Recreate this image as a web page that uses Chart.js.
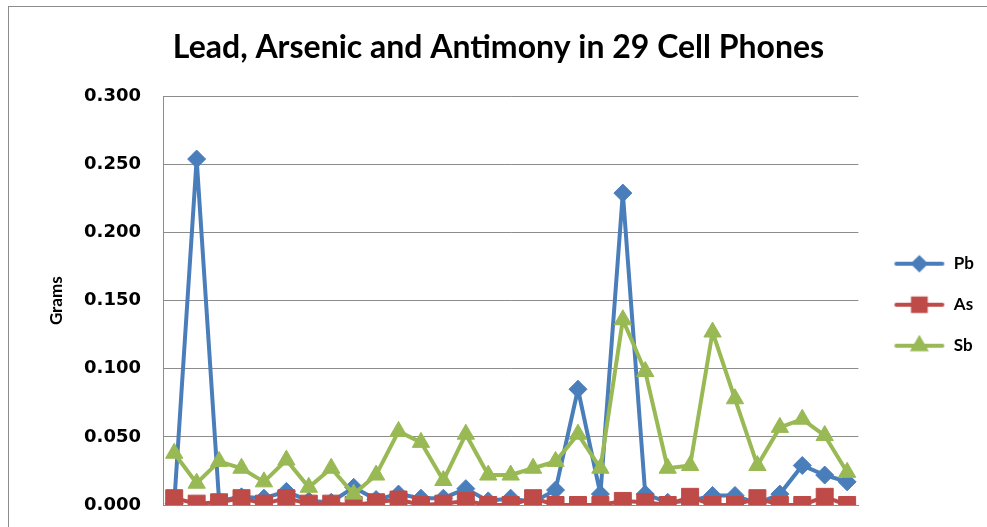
<!DOCTYPE html>
<html>
<head>
<meta charset="utf-8">
<script src="https://cdn.jsdelivr.net/npm/chart.js@4.4.0/dist/chart.umd.min.js"></script>
<style>
  html, body { margin: 0; padding: 0; background: #fff; overflow: hidden; }
  #wrap { position: relative; width: 987px; height: 527px; }
  #frame { position: absolute; left: 8px; top: 6px; width: 1100px; height: 700px; border: 1px solid #8c8c8c; box-sizing: border-box; }
  canvas { position: absolute; left: 0; top: 0; }
</style>
</head>
<body>
<div id="wrap">
  <div id="frame"></div>
  <canvas id="chart" width="987" height="527"></canvas>
</div>
<script>
// DATA
const phones = ['1','2','3','4','5','6','7','8','9','10','11','12','13','14','15','16',
                '17','18','19','20','21','22','23','24','25','26','27','28','29','30','31'];

const pb = [0.001, 0.254, 0.003, 0.006, 0.005, 0.010, 0.003, 0.002, 0.013, 0.004, 0.008,
            0.005, 0.005, 0.012, 0.003, 0.005, 0.002, 0.011, 0.085, 0.008, 0.229, 0.008,
            0.002, 0.003, 0.007, 0.007, 0.001, 0.008, 0.029, 0.022, 0.017];

const as = [0.005, 0.001, 0.002, 0.005, 0.001, 0.005, 0.001, 0.001, 0.000, 0.002, 0.004,
            0.000, 0.001, 0.003, 0.000, 0.000, 0.005, 0.000, 0.000, 0.000, 0.003, 0.002,
            0.000, 0.006, 0.000, 0.000, 0.005, 0.000, 0.000, 0.006, 0.000];

const sb = [0.038, 0.016, 0.032, 0.027, 0.017, 0.033, 0.013, 0.027, 0.008, 0.022, 0.054,
            0.046, 0.018, 0.052, 0.022, 0.022, 0.027, 0.032, 0.052, 0.027, 0.136, 0.098,
            0.027, 0.029, 0.127, 0.078, 0.029, 0.057, 0.063, 0.051, 0.024];

const seriesNames = ['Pb', 'As', 'Sb'];
const seriesColors = ['#4A7EBB', '#BE4B48', '#98B954'];
const yMin = 0, yMax = 0.3, yStep = 0.05;

// legend swatch: line with marker in the middle, like excel
const swatchW = 63;
function legendSwatch(color, style, radius) {
    let c = document.createElement('canvas');
    c.width = swatchW;
    c.height = 22;
    let ctx = c.getContext('2d');
    ctx.strokeStyle = color;
    ctx.lineWidth = 4;
    ctx.lineCap = 'round';
    ctx.beginPath();
    ctx.moveTo(swatchW - 49, 11);
    ctx.lineTo(swatchW - 3, 11);
    ctx.stroke();
    ctx.fillStyle = color;
    Chart.helpers.drawPoint(ctx, {pointStyle: style, radius: radius, rotation: 0, borderWidth: 1}, swatchW - 26, 11);
    return c;
}

const swatches = [
    legendSwatch(seriesColors[0], 'rectRot', 6),
    legendSwatch(seriesColors[1], 'rect', 9),
    legendSwatch(seriesColors[2], 'triangle', 7)
];

let ctx = document.querySelector('#chart').getContext('2d');

let chart = new Chart(ctx, {
    type: 'line',
    data: {
        labels: phones,
        datasets: [
            {
                label: seriesNames[0],
                data: pb,
                borderColor: seriesColors[0],
                backgroundColor: seriesColors[0],
                borderWidth: 4,
                pointStyle: 'rectRot',
                pointRadius: 9,
                pointBorderWidth: 1,
                order: 3
            },
            {
                label: seriesNames[1],
                data: as,
                borderColor: seriesColors[1],
                backgroundColor: seriesColors[1],
                borderWidth: 4,
                pointStyle: 'rect',
                pointRadius: 12,
                pointBorderWidth: 1,
                order: 2
            },
            {
                label: seriesNames[2],
                data: sb,
                borderColor: seriesColors[2],
                backgroundColor: seriesColors[2],
                borderWidth: 4,
                pointStyle: 'triangle',
                pointRadius: 10,
                pointBorderWidth: 1,
                order: 1
            }
        ]
    },
    options: {
        responsive: false,
        animation: false,
        layout: {
            padding: { left: 13, right: 3, top: 0, bottom: 22 }
        },
        scales: {
            x: {
                type: 'category',
                offset: true,
                ticks: { display: false },
                grid: { display: false, drawTicks: false },
                border: { display: true, color: '#8c8c8c', width: 1 }
            },
            y: {
                min: yMin,
                max: yMax,
                ticks: {
                    stepSize: yStep,
                    padding: 22,
                    color: '#000',
                    font: { family: 'DejaVu Sans', size: 18, weight: 'bold' },
                    callback: (v) => Number(v).toFixed(3)
                },
                grid: { color: '#8c8c8c', lineWidth: 1, drawTicks: false },
                border: { display: true, color: '#8c8c8c', width: 1 },
                title: {
                    display: true,
                    text: 'Grams',
                    color: '#000',
                    font: { family: 'Lato', size: 17, weight: 'bold' },
                    padding: { top: 33, bottom: 0 }
                },
                afterFit: (scale) => {
                    scale.width = 150;
                    // tick padding would otherwise be added below the plot too
                    scale.paddingBottom = 0;
                }
            }
        },
        plugins: {
            title: {
                display: true,
                text: 'Lead, Arsenic and Antimony in 29 Cell Phones',
                color: '#000',
                font: { family: 'Lato', size: 32, weight: 'bold' },
                padding: { top: 28, bottom: 30 }
            },
            legend: {
                position: 'right',
                title: {
                    display: true,
                    text: '',
                    padding: 45
                },
                labels: {
                    usePointStyle: true,
                    pointStyleWidth: swatchW,
                    padding: 24,
                    color: '#000',
                    font: { family: 'Lato', size: 17, weight: 'bold' },
                    generateLabels: (chart) => chart.data.datasets.map((ds, i) => ({
                        text: ds.label,
                        pointStyle: swatches[i],
                        fillStyle: ds.borderColor,
                        strokeStyle: ds.borderColor,
                        fontColor: '#000',
                        lineWidth: 0,
                        hidden: false,
                        datasetIndex: i
                    }))
                }
            },
            tooltip: { enabled: false }
        }
    }
});
</script>
</body>
</html>
